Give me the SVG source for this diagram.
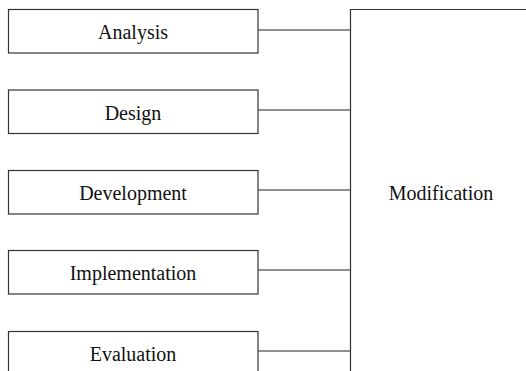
<svg xmlns="http://www.w3.org/2000/svg" width="526" height="371" viewBox="0 0 526 371">
<style>
.box{fill:#fff;stroke:#333;stroke-width:1.2}
.lbl{font-family:"Liberation Serif","DejaVu Serif",serif;font-size:20px;fill:#111;text-anchor:middle}
.con{stroke:#222;stroke-width:1.2;fill:none}
</style>
<rect width="526" height="371" fill="#fff"/>
<g id="modification">
<path class="box" d="M350.5 371 V9.5 H527"/>
<text class="lbl" x="441" y="200">Modification</text>
</g>
<g id="connectors">
<line class="con" x1="258" y1="30" x2="350" y2="30"/>
<line class="con" x1="258" y1="110" x2="350" y2="110"/>
<line class="con" x1="258" y1="190" x2="350" y2="190"/>
<line class="con" x1="258" y1="270" x2="350" y2="270"/>
<line class="con" x1="258" y1="351" x2="350" y2="351"/>
</g>
<g id="analysis">
<rect class="box" x="8.5" y="9.5" width="249.5" height="43.5"/>
<text class="lbl" x="133" y="39">Analysis</text>
</g>
<g id="design">
<rect class="box" x="8.5" y="90" width="249.5" height="43.5"/>
<text class="lbl" x="133" y="120">Design</text>
</g>
<g id="development">
<rect class="box" x="8.5" y="170.5" width="249.5" height="43.5"/>
<text class="lbl" x="133" y="200">Development</text>
</g>
<g id="implementation">
<rect class="box" x="8.5" y="250.5" width="249.5" height="43.5"/>
<text class="lbl" x="133" y="280">Implementation</text>
</g>
<g id="evaluation">
<rect class="box" x="8.5" y="331.5" width="249.5" height="43.5"/>
<text class="lbl" x="133" y="361">Evaluation</text>
</g>
</svg>
